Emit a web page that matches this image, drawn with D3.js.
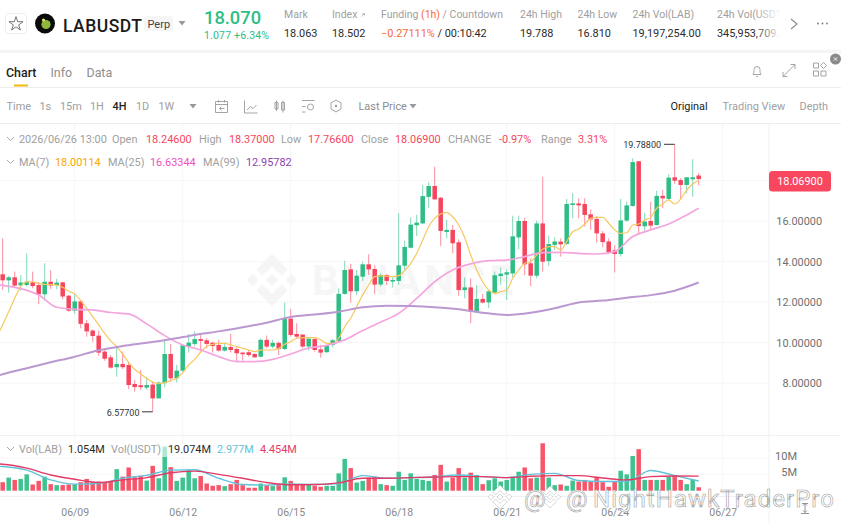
<!DOCTYPE html>
<html>
<head>
<meta charset="utf-8">
<style>
  html, body { margin: 0; padding: 0; background: #fff; }
  svg { display: block; }
  text { font-family: Roboto, "Noto Sans", sans-serif; }
</style>
<script src="https://cdnjs.cloudflare.com/ajax/libs/d3/7.8.5/d3.min.js"></script>
</head>
<body>
<svg id="chart" width="841" height="523"></svg>
<script>
// candles, oldest first, 4H
const opens = [13.37,13.07,13.22,12.82,12.84,12.97,12.84,12.38,13.00,12.84,12.97,12.31,11.57,12.03,10.95,10.59,10.34,9.55,9.27,8.78,8.94,8.89,7.95,7.89,7.77,7.92,7.24,7.99,9.43,8.23,8.61,9.80,9.93,10.17,10.11,9.99,9.88,9.60,9.78,9.68,9.50,9.52,9.43,9.30,10.13,9.80,9.98,9.68,11.18,10.42,10.39,9.80,10.17,9.66,9.52,9.88,10.08,12.40,13.61,12.53,13.25,13.86,13.63,12.86,13.33,13.01,13.04,13.79,14.68,15.79,15.88,17.19,17.73,17.15,15.46,15.56,14.95,12.59,12.72,11.49,12.15,11.98,12.46,13.28,13.35,13.41,15.19,16.00,13.91,13.30,15.88,14.02,14.82,14.98,14.87,16.79,16.87,16.84,16.33,16.10,15.39,14.99,14.55,14.37,16.02,16.74,18.95,15.74,16.00,15.80,17.24,17.09,18.16,18.02,17.78,18.06,18.246];
const highs = [15.15,13.29,13.50,13.32,14.40,13.50,12.97,13.91,13.58,13.14,13.00,12.35,12.40,12.07,11.11,10.65,10.59,9.71,9.38,9.83,9.55,9.06,8.15,8.64,8.31,8.07,8.07,10.13,9.93,8.89,9.88,10.42,10.55,10.37,10.21,10.04,10.13,9.99,10.42,9.80,9.55,9.63,9.47,10.21,10.34,10.13,10.04,11.97,11.66,10.95,10.41,10.21,10.21,9.88,9.88,10.17,12.68,14.04,13.88,13.58,13.99,14.36,13.83,13.42,13.38,13.22,16.38,15.03,16.18,16.30,17.78,17.91,18.68,17.17,16.05,15.80,15.09,13.22,13.17,12.84,12.40,12.56,13.50,13.71,13.61,16.26,16.26,16.16,14.16,16.02,18.19,15.28,15.19,15.14,17.09,17.37,17.12,17.12,16.58,16.24,15.51,15.14,14.82,17.09,16.95,19.09,18.96,16.41,16.95,17.50,17.53,18.30,19.788,18.11,18.16,19.05,18.37];
const lows = [12.59,12.46,12.76,12.56,12.76,12.68,11.89,12.07,12.63,12.63,12.13,11.52,11.41,10.70,10.29,10.04,9.34,9.10,8.71,8.31,8.69,7.69,7.57,7.66,7.66,6.577,7.23,7.79,8.07,8.03,8.55,9.50,9.80,9.55,9.71,9.50,9.55,9.55,9.50,9.06,9.10,9.30,9.25,9.27,9.71,9.71,9.38,9.63,10.29,10.21,9.71,9.60,9.55,9.25,9.50,9.76,10.04,12.36,11.97,12.35,13.04,13.33,12.40,12.76,12.84,12.72,12.84,13.58,14.65,15.26,15.85,16.63,17.04,14.77,15.14,14.40,12.30,12.18,10.95,11.47,11.93,11.70,12.43,12.84,12.10,13.22,14.60,13.32,12.79,13.17,13.50,13.79,14.57,14.24,14.82,16.13,16.13,15.72,15.56,14.93,14.70,14.37,13.46,14.24,15.97,16.71,15.31,15.42,15.56,15.77,16.63,17.04,17.83,17.07,17.37,17.20,17.766];
const closes = [13.07,13.22,12.81,12.96,13.00,12.79,12.38,13.00,12.81,12.96,12.27,11.57,12.03,10.92,10.55,10.32,9.50,9.20,8.76,8.94,8.78,7.90,7.80,7.79,7.90,7.24,8.02,9.43,8.23,8.61,9.86,9.99,10.17,10.08,9.93,9.83,9.60,9.78,9.63,9.47,9.42,9.38,9.27,10.13,9.80,9.98,9.68,11.18,10.37,10.29,9.80,10.19,9.63,9.50,9.86,10.11,12.40,13.58,12.53,13.30,13.86,13.61,12.86,13.33,13.04,13.09,13.81,14.72,15.82,15.92,17.23,17.73,17.07,15.51,15.56,14.90,12.59,12.72,11.52,12.15,11.97,12.53,13.32,13.40,13.47,15.24,16.00,13.86,13.30,15.88,13.99,14.86,14.99,14.85,16.84,16.87,16.77,16.30,16.08,15.39,14.96,14.45,14.37,16.03,16.77,18.91,15.75,15.97,15.77,17.24,17.12,18.14,17.99,17.78,18.16,18.16,18.069];
const volumes = [2.6,4.0,3.3,3.6,5.0,1.9,3.0,4.3,2.0,1.7,1.7,1.9,2.0,2.6,3.6,2.8,2.8,2.6,3.0,6.6,4.3,7.1,4.1,4.6,3.1,7.6,3.8,13.5,7.2,3.0,4.0,6.3,3.8,4.5,2.2,1.5,1.7,1.4,2.0,3.3,1.7,0.9,0.9,2.2,1.7,1.4,1.7,4.1,3.0,1.9,1.9,1.9,1.5,1.2,1.5,1.5,5.3,9.7,6.9,2.5,3.0,4.0,4.3,2.0,1.7,1.5,5.8,3.3,5.3,3.6,3.3,3.0,4.8,7.9,2.8,4.0,6.9,4.0,5.5,4.8,2.0,3.2,3.8,2.8,3.3,4.3,5.8,7.1,3.8,4.0,14.5,4.0,1.7,1.9,1.5,3.1,2.8,3.3,2.8,4.1,2.6,1.2,2.8,6.1,5.0,10.6,12.7,3.3,3.3,3.3,3.3,4.3,4.8,3.3,2.0,3.3,1.054];

// moving averages, the first point is the left edge of the chart
const ma7Index = [-1,0,1,2,3,4,5,6,7,8,9,10,11,12,13,14,15,16,17,18,19,20,21,22,23,24,25,26,27,28,29,30,31,32,33,34,35,36,37,38,39,40,41,42,43,44,45,46,47,48,49,50,51,52,53,54,55,56,57,58,59,60,61,62,63,64,65,66,67,68,69,70,71,72,73,74,75,76,77,78,79,80,81,82,83,84,85,86,87,88,89,90,91,92,93,94,95,96,97,98,99,100,101,102,103,104,105,106,107,108,109,110,111,112,113,114,115,116];
const ma7 = [10.30,10.87,11.52,12.18,12.76,12.99,13.00,12.92,12.87,12.86,12.84,12.73,12.53,12.40,12.07,11.69,11.28,10.87,10.45,10.08,9.80,9.43,9.01,8.68,8.45,8.23,8.05,7.97,8.02,8.12,8.23,8.51,8.89,9.17,9.53,9.80,9.91,9.96,9.96,9.88,9.80,9.71,9.63,9.55,9.62,9.63,9.63,9.71,9.91,10.04,10.21,10.24,10.24,10.24,10.13,9.96,9.96,10.21,10.78,11.20,11.77,12.35,12.84,13.25,13.29,13.28,13.25,13.30,13.55,13.91,14.40,15.06,15.72,16.13,16.35,16.41,16.21,15.80,15.19,14.32,13.58,13.00,12.59,12.43,12.51,12.59,13.17,13.58,13.91,13.99,14.32,14.60,14.73,14.73,14.57,14.98,15.47,15.60,15.85,16.13,16.18,16.18,15.89,15.56,15.39,15.42,15.80,15.85,16.05,16.18,16.63,16.84,17.04,16.84,17.09,17.53,17.83,18.00];
const ma25Index = [-1,0,3,6,9,12,15,18,21,24,27,30,33,36,39,42,45,48,51,54,57,60,63,66,69,72,75,78,81,84,87,90,93,96,99,102,105,108,111,114,116];
const ma25 = [12.85,12.82,12.66,12.35,11.74,11.64,11.61,11.48,11.41,10.92,10.34,9.88,9.63,9.30,9.06,9.06,9.17,9.43,9.73,9.86,10.13,10.59,11.01,11.44,12.18,13.00,13.58,13.88,14.04,14.07,14.24,14.44,14.45,14.40,14.37,14.49,15.23,15.56,15.85,16.30,16.63];
const ma99Index = [-1,0,4,8,12,16,20,24,28,32,36,40,44,48,52,56,60,64,68,72,76,80,84,88,92,96,100,104,108,112,116];
const ma99 = [8.35,8.43,8.73,9.02,9.30,9.62,9.83,9.99,10.16,10.37,10.55,10.75,10.98,11.26,11.38,11.52,11.74,11.82,11.80,11.74,11.64,11.47,11.36,11.47,11.69,11.98,12.07,12.21,12.34,12.56,12.96];
const volMa7 = [7.5,7.4,6.3,3.3,2.0,2.2,3.8,4.7,6.3,6.4,3.8,1.9,1.7,2.1,1.9,2.2,4.6,3.8,4.0,4.2,4.8,4.3,4.0,5.0,5.3,3.1,2.8,2.8,6.2,4.6,2.977];
const volMa25 = [8.2,8.1,6.9,4.8,3.5,2.5,3.3,4.0,5.5,6.0,5.0,3.8,2.5,1.8,1.9,2.4,3.8,3.8,4.0,4.2,4.3,4.3,4.0,4.4,4.6,4.6,3.9,3.3,4.3,4.5,4.454];

const priceTicks = [8, 10, 12, 14, 16, 18];
const priceLabelTicks = [8, 10, 12, 14, 16];
const volTicks = [5, 10];
const timeTickIndex = [12, 30, 48, 66, 84, 102, 120];
const timeLabels = ["06/09", "06/12", "06/15", "06/18", "06/21", "06/24", "06/27"];

const green = "#2ebd85", red = "#f6465d", grey = "#a0a0a0", dark = "#2b2b2b", orange = "#f7693a";
const svg = d3.select("#chart");

const x = d3.scaleLinear().domain([0, 116]).range([2.7, 698.7]);
const y = d3.scaleLinear().domain([16, 8]).range([221, 383]);
const yVol = d3.scaleLinear().domain([0, 10]).range([490.7, 458]);

function txt(px, py, s, fill, size, anchor, weight) {
  return svg.append("text").attr("x", px).attr("y", py).text(s)
    .attr("fill", fill).attr("font-size", size || 10.9)
    .attr("text-anchor", anchor || "start").attr("font-weight", weight || 400);
}

// grid
const grid = svg.append("g").attr("stroke", "#f6f6f6").attr("stroke-width", 1);
grid.selectAll(".h").data(priceTicks).enter().append("line")
  .attr("x1", 0).attr("x2", 769)
  .attr("y1", function(d) { return y(d); }).attr("y2", function(d) { return y(d); });
grid.selectAll(".v").data(timeTickIndex).enter().append("line")
  .attr("x1", function(d) { return x(d); }).attr("x2", function(d) { return x(d); })
  .attr("y1", 124).attr("y2", 497);
grid.selectAll(".vh").data(volTicks).enter().append("line")
  .attr("x1", 0).attr("x2", 769)
  .attr("y1", function(d) { return yVol(d); }).attr("y2", function(d) { return yVol(d); });
svg.append("line").attr("x1", 769).attr("x2", 769).attr("y1", 124).attr("y2", 523).attr("stroke", "#f0f0f0");
svg.append("line").attr("x1", 0).attr("x2", 841).attr("y1", 435.5).attr("y2", 435.5).attr("stroke", "#f0f0f0");
svg.append("line").attr("x1", 0).attr("x2", 769).attr("y1", 496.5).attr("y2", 496.5).attr("stroke", "#f0f0f0");

// binance watermark, behind the candles
function binanceMark(parent, cx, cy, r, fill, stroke) {
  const a = r / 26;
  const g = parent.append("g").attr("transform", "translate(" + cx + "," + cy + ") scale(" + a + ")")
    .attr("fill", fill).attr("stroke", stroke || "none");
  const shapes = [
    "M0,-6.5L6.5,0L0,6.5L-6.5,0Z",
    "M-19.5,-6L-13.5,0L-19.5,6L-25.5,0Z",
    "M19.5,-6L25.5,0L19.5,6L13.5,0Z",
    "M0,-26L15.5,-10.5L9.5,-4.5L0,-14L-9.5,-4.5L-15.5,-10.5Z",
    "M0,26L15.5,10.5L9.5,4.5L0,14L-9.5,4.5L-15.5,10.5Z"
  ];
  g.selectAll("path").data(shapes).enter().append("path").attr("d", function(d) { return d; });
}
binanceMark(svg, 272, 280, 26, "#f5f5f5");
txt(312, 295, "BINANCE", "#f6f6f6", 42, "start", 700).attr("textLength", 201);

// candles
const idx = d3.range(opens.length);
const isUp = function(i) { return closes[i] >= opens[i]; };
const candles = svg.append("g");
candles.selectAll("line").data(idx).enter().append("line")
  .attr("x1", function(i) { return x(i); }).attr("x2", function(i) { return x(i); })
  .attr("y1", function(i) { return y(highs[i]); }).attr("y2", function(i) { return y(lows[i]); })
  .attr("stroke", function(i) { return isUp(i) ? green : red; })
  .attr("stroke-opacity", 0.6).attr("stroke-width", 1);
candles.selectAll("rect").data(idx).enter().append("rect")
  .attr("x", function(i) { return x(i) - 2.25; }).attr("width", 4.5)
  .attr("y", function(i) { return y(Math.max(opens[i], closes[i])); })
  .attr("height", function(i) { return Math.max(1.2, Math.abs(y(opens[i]) - y(closes[i]))); })
  .attr("fill", function(i) { return isUp(i) ? green : red; });

// price moving averages
function maLine(index, values, yScale, color, width) {
  const line = d3.line()
    .x(function(d, k) { return x(index[k]); })
    .y(function(d) { return yScale(d); })
    .curve(d3.curveMonotoneX);
  svg.append("path").attr("d", line(values)).attr("fill", "none")
    .attr("stroke", color).attr("stroke-width", width);
}
maLine(ma7Index, ma7, y, "#f6c860", 1.2);
maLine(ma25Index, ma25, y, "#f5a5de", 1.7);
maLine(ma99Index, ma99, y, "#bb98d0", 2);

// volume
svg.append("g").selectAll("rect").data(idx).enter().append("rect")
  .attr("x", function(i) { return x(i) - 2.25; }).attr("width", 4.5)
  .attr("y", function(i) { return yVol(volumes[i]); })
  .attr("height", function(i) { return yVol(0) - yVol(volumes[i]); })
  .attr("fill", function(i) { return isUp(i) ? green : red; })
  .attr("fill-opacity", 0.92);
maLine(ma99Index, volMa7, yVol, "#62c3d8", 1.4);
maLine(ma99Index, volMa25, yVol, "#e23a66", 1.4);
// the legend row sits on a half white strip over the bars
svg.append("rect").attr("x", 0).attr("y", 442).attr("width", 300).attr("height", 15).attr("fill", "#fff").attr("fill-opacity", 0.6);

// axes
const priceAxis = d3.axisLeft(y).tickValues(priceLabelTicks).tickFormat(d3.format(".5f")).tickSize(0);
const pa = svg.append("g").attr("transform", "translate(825,0)").call(priceAxis);
pa.select(".domain").remove();
pa.selectAll("text").attr("fill", "#6f6f6f").attr("font-size", 10.9).attr("font-family", "Roboto, sans-serif");

const volAxis = d3.axisLeft(yVol).tickValues(volTicks).tickFormat(function(d) { return d + "M"; }).tickSize(0);
const va = svg.append("g").attr("transform", "translate(800,-2)").call(volAxis);
va.select(".domain").remove();
va.selectAll("text").attr("fill", "#6f6f6f").attr("font-size", 11).attr("font-family", "Roboto, sans-serif");

const timeAxis = d3.axisBottom(x).tickValues(timeTickIndex)
  .tickFormat(function(d, k) { return timeLabels[k]; }).tickSize(0);
const ta = svg.append("g").attr("transform", "translate(0,505.5)").call(timeAxis);
ta.select(".domain").remove();
ta.selectAll("text").attr("fill", "#8a8a8a").attr("font-size", 10.5).attr("font-family", "Roboto, sans-serif");

// high/low call-outs
txt(661, 148, "19.78800", "#333", 9, "end");
svg.append("line").attr("x1", 664).attr("x2", x(112)).attr("y1", y(19.788)).attr("y2", y(19.788)).attr("stroke", "#333");
txt(139.5, 416, "6.57700", "#333", 9, "end");
svg.append("line").attr("x1", 142).attr("x2", x(25)).attr("y1", y(6.577)).attr("y2", y(6.577)).attr("stroke", "#333");

// last price tag
svg.append("rect").attr("x", 769).attr("y", 171).attr("width", 62).attr("height", 20.5).attr("rx", 3.5).attr("fill", "#f8475f");
txt(800, 185, "18.06900", "#fff", 10.9, "middle");

// chart legends
function chevronDown(cx, cy, col) {
  svg.append("path").attr("d", "M" + (cx - 3.5) + "," + (cy - 2) + "L" + cx + "," + (cy + 1.5) + "L" + (cx + 3.5) + "," + (cy - 2))
    .attr("fill", "none").attr("stroke", col || "#a8a8a8").attr("stroke-width", 1);
}
chevronDown(10.5, 139);
chevronDown(10.5, 162);
chevronDown(10.5, 449);
const ohlcRed = "#f6465d";
txt(19, 143, "2026/06/26 13:00", grey);
txt(112, 143, "Open", grey); txt(146, 143, "18.24600", ohlcRed);
txt(199, 143, "High", grey); txt(229, 143, "18.37000", ohlcRed);
txt(281, 143, "Low", grey); txt(308, 143, "17.76600", ohlcRed);
txt(361, 143, "Close", grey); txt(395, 143, "18.06900", ohlcRed);
txt(448, 143, "CHANGE", grey); txt(499, 143, "-0.97%", ohlcRed);
txt(541, 143, "Range", grey); txt(578, 143, "3.31%", ohlcRed);
txt(19, 166, "MA(7)", grey); txt(55, 166, "18.00114", "#f7a600");
txt(108, 166, "MA(25)", grey); txt(150, 166, "16.63344", "#f04fc0");
txt(203, 166, "MA(99)", grey); txt(246, 166, "12.95782", "#8e44ad");

txt(19, 453, "Vol(LAB)", grey); txt(68, 453, "1.054M", dark);
txt(111, 453, "Vol(USDT)", grey); txt(168, 453, "19.074M", dark);
txt(217, 453, "2.977M", "#62c3d8"); txt(260, 453, "4.454M", "#e23a66");

// header
svg.append("rect").attr("x", 5.5).attr("y", 13.5).attr("width", 21).attr("height", 20).attr("rx", 3)
  .attr("fill", "#fff").attr("stroke", "#eee");
svg.append("path").attr("d", d3.symbol(d3.symbolStar, 62)()).attr("transform", "translate(16,24)")
  .attr("fill", "none").attr("stroke", "#777").attr("stroke-width", 1);
svg.append("circle").attr("cx", 45).attr("cy", 23.5).attr("r", 10).attr("fill", "#0b0b0b");
svg.append("circle").attr("cx", 46).attr("cy", 24.5).attr("r", 4.6).attr("fill", "#8fb93a");
svg.append("circle").attr("cx", 43.5).attr("cy", 20).attr("r", 1.6).attr("fill", "#d8e36a");
txt(63, 31.5, "LABUSDT", "#1a1a1a", 17.5, "start", 500).attr("textLength", 79);
svg.append("rect").attr("x", 144).attr("y", 16).attr("width", 29).attr("height", 15).attr("rx", 2).attr("fill", "#f6f6f6");
txt(147.5, 27.5, "Perp", "#444", 11);
function caret(cx, cy, col) {
  svg.append("path").attr("d", "M" + (cx - 3.5) + "," + (cy - 2) + "h7l-3.5,4.5z").attr("fill", col || "#999");
}
caret(182, 23);
txt(204, 24, "18.070", green, 18.3, "start", 500);
txt(204, 38.5, "1.077 +6.34%", green, 10.5).attr("textLength", 65);
txt(284, 18, "Mark", grey, 10.5); txt(284, 37, "18.063", dark, 10.9);
txt(332, 18, "Index", grey, 10.5); txt(332, 37, "18.502", dark, 10.9);
svg.append("path").attr("d", "M361.5,16.5l3,-3m-2,0h2v2").attr("fill", "none").attr("stroke", "#aaa").attr("stroke-width", 0.8);
const fundHead = txt(381, 18, "Funding ", grey, 10.5);
fundHead.append("tspan").attr("fill", orange).text("(1h)");
fundHead.append("tspan").text(" / Countdown");
const fundVal = txt(381, 37, "\u22120.27111%", orange, 10.9);
fundVal.append("tspan").attr("fill", dark).text(" / 00:10:42");
txt(520, 18, "24h High", grey, 10.5); txt(520, 37, "19.788", dark, 10.9);
txt(577.5, 18, "24h Low", grey, 10.5); txt(577.5, 37, "16.810", dark, 10.9);
txt(632.5, 18, "24h Vol(LAB)", grey, 10.5); txt(632.5, 37, "19,197,254.00", dark, 10.9);
txt(717, 18, "24h Vol(USDT)", grey, 10.5); txt(717, 37, "345,953,709.", dark, 10.9);
const fade = svg.append("defs").append("linearGradient").attr("id", "fade");
fade.append("stop").attr("offset", 0).attr("stop-color", "#fff").attr("stop-opacity", 0);
fade.append("stop").attr("offset", 1).attr("stop-color", "#fff");
svg.append("rect").attr("x", 755).attr("y", 5).attr("width", 26).attr("height", 36).attr("fill", "url(#fade)");
svg.append("rect").attr("x", 781).attr("y", 5).attr("width", 60).attr("height", 36).attr("fill", "#fff");
svg.append("path").attr("d", "M791,19l6,5l-6,5").attr("fill", "none").attr("stroke", "#8a8a8a").attr("stroke-width", 1.1);
svg.append("g").selectAll("circle").data([818, 822.5, 827]).enter().append("circle")
  .attr("cx", function(d) { return d; }).attr("cy", 23.5).attr("r", 0.9).attr("fill", "#777");
svg.append("rect").attr("x", 0).attr("y", 49.5).attr("width", 841).attr("height", 3.5).attr("fill", "#f5f5f5");

// tabs
txt(6, 77, "Chart", "#222", 12.4, "start", 500);
txt(50.5, 77, "Info", "#8e8e8e", 12.4);
txt(86.5, 77, "Data", "#8e8e8e", 12.4);
svg.append("rect").attr("x", 14).attr("y", 84.5).attr("width", 14).attr("height", 2).attr("fill", "#f0b90b");
svg.append("line").attr("x1", 0).attr("x2", 841).attr("y1", 87.5).attr("y2", 87.5).attr("stroke", "#eee");
svg.append("line").attr("x1", 0).attr("x2", 841).attr("y1", 123.5).attr("y2", 123.5).attr("stroke", "#eee");

// tab bar icons
const iconStroke = "#9a9a9a";
function icon(d, col) {
  svg.append("path").attr("d", d).attr("fill", "none").attr("stroke", col || iconStroke).attr("stroke-width", 0.9);
}
icon("M761,74.5h-8c0,-1 1,-1.5 1,-3v-2a3,3 0 0 1 6,0v2c0,1.5 1,2 1,3zM755.8,76a1.4,1.4 0 0 0 2.4,0");
icon("M783,76.5l12,-12M783,72v4.5h4.5M790.5,64.5h4.5v4.5");
icon("M813.5,63h5v5h-5zM813.5,71h5v5h-5zM821,71h5v5h-5zM823.5,62.5l3,3l-3,3l-3,-3z");
svg.append("circle").attr("cx", 835.5).attr("cy", 59).attr("r", 5.5).attr("fill", "#8a8a8a");
icon("M833.8,57.3l3.4,3.4m0,-3.4l-3.4,3.4", "#fff");

// toolbar
const toolLabels = ["Time", "1s", "15m", "1H", "4H", "1D", "1W"];
const toolX = [6.5, 39.5, 60, 90, 112.5, 136, 158.5];
svg.append("g").selectAll("text").data(toolLabels).enter().append("text")
  .attr("x", function(d, i) { return toolX[i]; }).attr("y", 110)
  .attr("font-size", 10.9).attr("fill", function(d) { return d === "4H" ? "#222" : grey; })
  .attr("font-weight", function(d) { return d === "4H" ? 500 : 400; })
  .text(function(d) { return d; });
caret(193, 106);
icon("M215.5,101.5h12v11h-12zM215.5,104.5h12M218.5,100v2.5M224.5,100v2.5M224.5,108.5h-5m2,-2l-2,2l2,2");
icon("M244.5,100.5v12.5h13M247,110l3.5,-3.5l2.5,2l3.5,-3.5");
icon("M275,102.5h3v6.5h-3zM276.5,100.5v10.5M281.5,102.5h3v7.5h-3zM283,100.5v12");
icon("M302,100.5h12.5M302,106.5h3.5M302,112h3.5");
svg.append("circle").attr("cx", 310.5).attr("cy", 107).attr("r", 3).attr("fill", "none").attr("stroke", iconStroke).attr("stroke-width", 0.9);
icon("M336,100l5,3v6l-5,3l-5,-3v-6z");
svg.append("circle").attr("cx", 336).attr("cy", 106).attr("r", 1.2).attr("fill", iconStroke);
txt(358.5, 110, "Last Price", "#8e8e8e", 10.9);
caret(413, 106);
txt(670.5, 110, "Original", "#222", 10.9);
txt(722.5, 110, "Trading View", grey, 10.9);
txt(799.5, 110, "Depth", grey, 10.9);

// scale handle, bottom right
icon("M802,503.5h6M805,503.5v9M803,505.5l2,-2l2,2M803,510.5l2,2l2,-2M801,513.5h8", "#8a8a8a");

// overlay watermark from the reposter
const wm = svg.append("g");
binanceMark(wm, 500, 497, 12, "#ffffff", "#a8a8a8");
binanceMark(wm, 550, 497, 11, "#ffffff", "#a8a8a8");
function wmText(px, s, len) {
  txt(px, 507, s, "#fff", 24).attr("stroke", "#a2a2a2").attr("stroke-width", 0.6).attr("textLength", len);
}
wmText(524, "@", 21);
wmText(566, "@", 20);
wmText(593, "NightHawkTraderPro", 241);
</script>
</body>
</html>
